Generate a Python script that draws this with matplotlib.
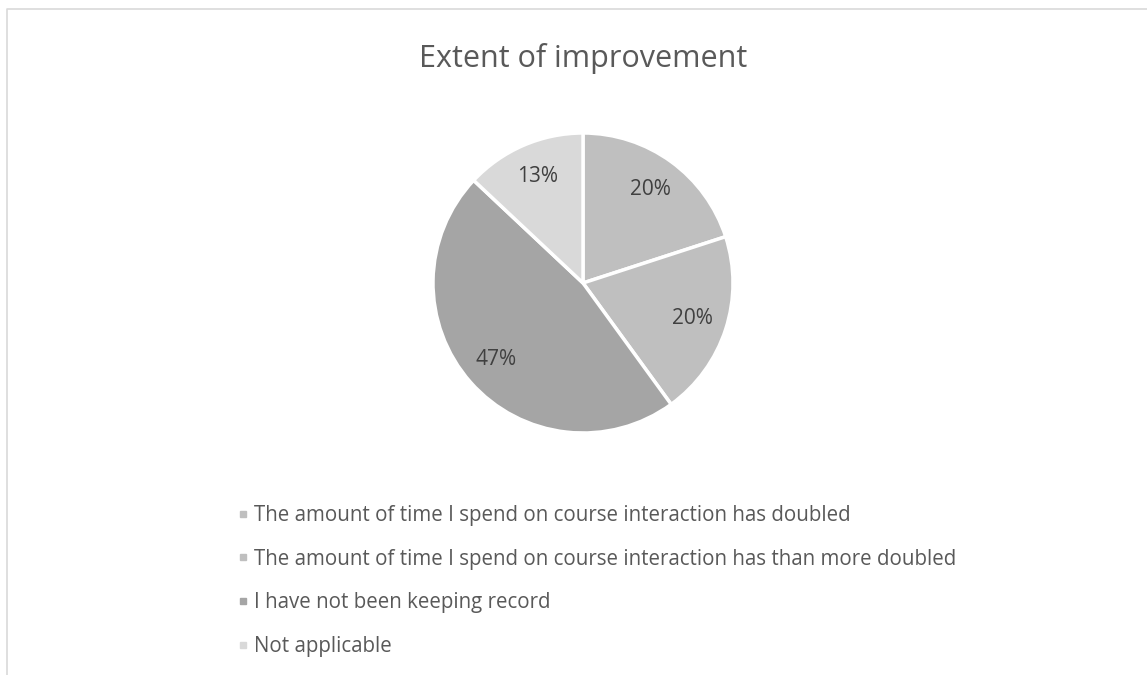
import matplotlib
matplotlib.use("Agg")
import matplotlib.pyplot as plt
from matplotlib.lines import Line2D

categories = [
    "The amount of time I spend on course interaction has doubled",
    "The amount of time I spend on course interaction has than more doubled",
    "I have not been keeping record",
    "Not applicable",
]
values = [20, 20, 47, 13]
colors = ["#bfbfbf", "#bfbfbf", "#a5a5a5", "#d9d9d9"]
title = "Extent of improvement"

plt.rcParams['font.family'] = ['Open Sans', 'DejaVu Sans']
W, H = 1147, 675
fig = plt.figure(figsize=(W / 100, H / 100), dpi=100)

# frame border
fig.add_artist(Line2D([7.5 / W, 7.5 / W, 1.0], [0.0, 1 - 8.5 / H, 1 - 8.5 / H],
                      transform=fig.transFigure, color="#d9d9d9", lw=1.2))

cx, cy, r = 583, 283, 150
ax = fig.add_axes([(cx - r) / W, 1 - (cy + r) / H, 2 * r / W, 2 * r / H])
wedges, texts, autotexts = ax.pie(
    values, colors=colors, startangle=90, counterclock=False,
    autopct=lambda p: f"{p:.0f}%", pctdistance=0.77,
    wedgeprops=dict(edgecolor="white", linewidth=2.5),
    textprops=dict(color="#404040", fontsize=15))
ax.set_xlim(-1, 1)
ax.set_ylim(-1, 1)
ax.set_aspect("equal")
ax.axis("off")

fig.text(cx / W, 1 - 59 / H, title, ha="center", va="center",
         fontsize=22, color="#595959")

handles = [Line2D([], [], marker="s", linestyle="none", markersize=4.5,
                  markerfacecolor=c, markeredgecolor=c) for c in colors]
leg = fig.legend(handles, categories, loc="upper left",
                 bbox_to_anchor=(237 / W, 1 - 505 / H), frameon=False,
                 fontsize=14.8, labelspacing=1.1, handlelength=0.6,
                 handletextpad=0.25, borderpad=0, borderaxespad=0)
for t in leg.get_texts():
    t.set_color("#595959")

fig.savefig("out.png", dpi=100, facecolor="white")
